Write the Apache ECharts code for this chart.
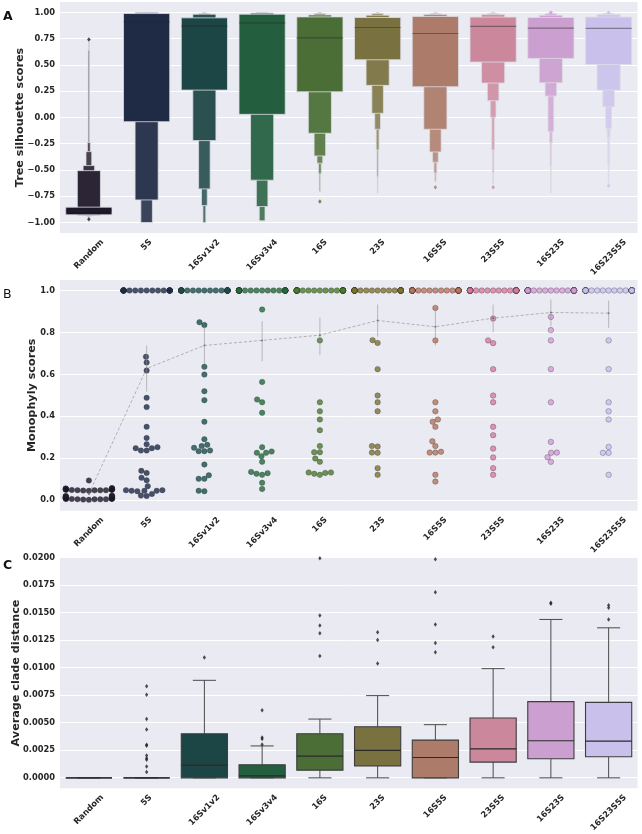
<!DOCTYPE html>
<html><head><meta charset="utf-8">
<script src="https://cdn.jsdelivr.net/npm/echarts@6/dist/echarts.min.js"></script>
<style>html,body{margin:0;padding:0;background:#fff}#chart{width:642px;height:834px}</style>
</head><body><div id="chart"></div>
<script>
// ---------------- DATA ----------------
const categories = ['Random','5S','16Sv1v2','16Sv3v4','16S','23S','16S5S','23S5S','16S23S','16S23S5S'];

// Panel A: letter values (index 0 = inner box / IQR, outward after)
const silLow = [
  [-0.927,-0.930,-0.934,-0.938,-0.942,-0.948,-0.955],
  [-0.040,-0.785,-1.000],
  [0.261,-0.220,-0.680,-0.838,-1.000],
  [0.030,-0.597,-0.848,-0.984],
  [0.245,-0.150,-0.366,-0.436,-0.537,-0.705],
  [0.550,0.306,0.040,-0.112,-0.309,-0.563,-0.720],
  [0.293,-0.112,-0.328,-0.426,-0.530,-0.610],
  [0.528,0.328,0.160,0.002,-0.309,-0.530,-0.630],
  [0.563,0.331,0.204,-0.135,-0.239,-0.461,-0.715],
  [0.505,0.261,0.103,-0.103,-0.188,-0.452,-0.625]
];
const silHigh = [
  [-0.854,-0.506,-0.458,-0.325,-0.239,0.640,0.720],
  [0.990,1.000,1.000],
  [0.949,0.984,0.990,0.995,1.000],
  [0.984,0.995,1.000,1.000],
  [0.958,0.977,0.990,0.995,0.998,1.000],
  [0.952,0.974,0.990,0.995,0.998,1.000,1.000],
  [0.962,0.980,0.990,0.995,0.998,1.000],
  [0.956,0.980,0.990,0.995,0.998,1.000,1.000],
  [0.952,0.974,0.990,0.995,0.998,1.000,1.000],
  [0.956,0.980,0.990,0.995,0.998,1.000,1.000]
];
const silMedian = [-0.886,0.914,0.870,0.902,0.759,0.857,0.800,0.867,0.851,0.848];
const silOutliers = [[0.743,-0.968],[],[],[],[-0.800],[],[-0.664],[-0.664],[1.000],[-0.651,1.000]];
const silTicks = [-1,-0.75,-0.5,-0.25,0,0.25,0.5,0.75,1];

// Panel B: monophyly scores per category
const monoRandom = [0.094,0.058,0.056,0.056,0.055,0.054,0.053,0.053,0.052,0.052,0.051,0.050,0.050,0.050,0.049,0.048,0.048,0.047,0.047,0.046,0.045,
  0.022,0.020,0.019,0.018,0.017,0.016,0.015,0.014,0.013,0.013,0.012,0.012,0.011,0.011,0.010,0.010,0.009,0.009,0.008,0.008,0.007,0.007,0.006,0.006,0.005,0.005,0.004,0.004,0.003,0.002];
const mono5S = [0.684,0.657,0.618,0.488,0.444,0.350,0.297,0.267,0.253,0.248,0.248,0.237,0.237,0.140,0.130,0.107,0.095,0.067,0.048,0.045,0.045,0.048,0.043,0.045,0.022,0.020,0.030,
  1,1,1,1,1,1,1,1,1,1,1,1,1,1,1,1,1,1,1,1,1,1,1,1];
const mono16Sv1v2 = [0.849,0.835,0.636,0.599,0.520,0.477,0.374,0.291,0.250,0.234,0.258,0.234,0.264,0.237,0.170,0.102,0.102,0.119,0.045,0.043,
  1,1,1,1,1,1,1,1,1,1,1,1,1,1,1,1,1,1,1,1,1,1,1,1,1,1,1,1,1,1,1];
const mono16Sv3v4 = [0.909,0.564,0.480,0.467,0.417,0.253,0.226,0.210,0.226,0.232,0.183,0.135,0.126,0.121,0.129,0.083,0.054,
  1,1,1,1,1,1,1,1,1,1,1,1,1,1,1,1,1,1,1,1,1,1,1,1,1,1,1,1,1,1,1,1,1,1];
const mono16S = [0.762,0.467,0.424,0.385,0.334,0.258,0.229,0.229,0.199,0.183,0.132,0.126,0.121,0.130,0.132,
  1,1,1,1,1,1,1,1,1,1,1,1,1,1,1,1,1,1,1,1,1,1,1,1,1,1,1,1,1,1,1,1,1,1,1,1];
const mono23S = [0.763,0.750,0.625,0.499,0.467,0.424,0.258,0.256,0.227,0.226,0.153,0.121,
  1,1,1,1,1,1,1,1,1,1,1,1,1,1,1,1,1,1,1,1,1,1,1,1,1,1,1,1,1,1,1,1,1,1,1,1,1,1,1];
const mono16S5S = [0.917,0.762,0.467,0.424,0.374,0.385,0.350,0.281,0.258,0.227,0.227,0.231,0.121,0.089,
  1,1,1,1,1,1,1,1,1,1,1,1,1,1,1,1,1,1,1,1,1,1,1,1,1,1,1,1,1,1,1,1,1,1,1,1,1];
const mono23S5S = [0.866,0.762,0.749,0.625,0.499,0.467,0.350,0.310,0.246,0.204,0.153,0.121,
  1,1,1,1,1,1,1,1,1,1,1,1,1,1,1,1,1,1,1,1,1,1,1,1,1,1,1,1,1,1,1,1,1,1,1,1,1,1,1];
const mono16S23S = [0.874,0.811,0.762,0.625,0.467,0.278,0.227,0.226,0.205,0.183,
  1,1,1,1,1,1,1,1,1,1,1,1,1,1,1,1,1,1,1,1,1,1,1,1,1,1,1,1,1,1,1,1,1,1,1,1,1,1,1,1,1];
const mono16S23S5S = [0.762,0.625,0.467,0.424,0.385,0.254,0.226,0.226,0.121,
  1,1,1,1,1,1,1,1,1,1,1,1,1,1,1,1,1,1,1,1,1,1,1,1,1,1,1,1,1,1,1,1,1,1,1,1,1,1,1,1,1,1];
const monoMean = [0.030,0.628,0.738,0.762,0.787,0.857,0.827,0.868,0.895,0.892];
const monoCiLow = [0.024,0.518,0.648,0.663,0.692,0.780,0.738,0.800,0.830,0.822];
const monoCiHigh = [0.037,0.738,0.827,0.854,0.870,0.933,0.915,0.933,0.957,0.952];
const monoTicks = [0,0.2,0.4,0.6,0.8,1.0];

// Panel C: box statistics [lower whisker, Q1, median, Q3, upper whisker]
const cladeBoxes = [
  [0,0,0,0,0],
  [0,0,0,0,0],
  [0,0,0.00115,0.00401,0.00886],
  [0,0,0.00018,0.00118,0.00290],
  [0,0.00070,0.00197,0.00401,0.00534],
  [0,0.00109,0.00249,0.00464,0.00747],
  [0,0,0.00185,0.00343,0.00483],
  [0,0.00143,0.00264,0.00543,0.00992],
  [0,0.00173,0.00337,0.00692,0.01439],
  [0,0.00191,0.00334,0.00686,0.01363]
];
const cladeOutliers = [
  [],
  [0.00832,0.00756,0.00534,0.00440,0.00300,0.00291,0.00203,0.00179,0.00164,0.00103,0.00052],
  [0.01093],
  [0.00613,0.00367,0.00352,0.00302],
  [0.01995,0.01475,0.01384,0.01314,0.01108],
  [0.01323,0.01253,0.01038],
  [0.01985,0.01687,0.01393,0.01226,0.01141],
  [0.01284,0.01187],
  [0.01590,0.01581],
  [0.01569,0.01545,0.01439]
];
const cladeTicks = [0,0.0025,0.005,0.0075,0.01,0.0125,0.015,0.0175,0.02];

// ---------------- STYLE ----------------
const boxColors = ['#1e1729','#1f2a44','#1c4545','#235f3f','#4a6e35','#7a7140','#ac7b69','#cb889d','#cb9fcf','#c9c1eb'];
const dotColors = ['#1b1529','#1c2a4a','#174f4c','#1f6b3a','#4b7a2b','#7d7330','#b8745c','#d77b9d','#d49bd8','#c6c0f2'];
const FONT = '"DejaVu Sans","Liberation Sans",sans-serif';
const TXT = '#262626';
const XFS = 8.3, YFS = 8.3, NFS = 11.2;
const K_LEVELS = 14;
const monoData = [monoRandom,mono5S,mono16Sv1v2,mono16Sv3v4,mono16S,mono23S,mono16S5S,mono23S5S,mono16S23S,mono16S23S5S];

function hexToRgb(h){h=h.replace('#','');return [0,2,4].map(i=>parseInt(h.substr(i,2),16));}
function mixWhite(h,f){return 'rgb('+hexToRgb(h).map(v=>Math.round(v+(255-v)*f)).join(',')+')';}

const chart = echarts.init(document.getElementById('chart'), null, {renderer:'canvas'});

const mctx = document.createElement('canvas').getContext('2d');
mctx.font = 'bold ' + XFS + 'px "DejaVu Sans"';
const xRich = {};
categories.forEach((c,i)=>{
  const w = mctx.measureText(c).width;
  const P = (w + 8) / 2;
  xRich['p'+i] = {fontSize:XFS, fontWeight:'bold', fontFamily:FONT, color:TXT, padding:[P,P,0,0]};
});

const gridsDef = [
  {left:60, top:2, width:577.5, height:231},
  {left:60, top:280, width:577.5, height:230.7},
  {left:60, top:557.7, width:577.5, height:230.6}
];

function catAxis(g){
  return {type:'category', gridIndex:g, data:categories, boundaryGap:true,
    axisLine:{show:false}, axisTick:{show:false}, splitLine:{show:false},
    axisLabel:{interval:0, rotate:45, align:'center', verticalAlign:'middle', margin:5,
      formatter:(v,i)=>'{p'+i+'|'+v+'}', rich:xRich}};
}
function valAxis(g){ return {type:'value', gridIndex:g, min:-0.5, max:9.5, show:false}; }
function yAxis(g,min,max,ticks,fmt,name,gap){
  return {type:'value', gridIndex:g, min:min, max:max,
    axisLine:{show:false}, axisTick:{show:false}, splitLine:{show:false},
    axisLabel:{customValues:ticks, formatter:fmt, fontSize:YFS, fontWeight:'bold', fontFamily:FONT, color:TXT, margin:5},
    name:name, nameLocation:'middle', nameGap:gap, nameMoveOverlap:false,
    nameTextStyle:{fontSize:NFS, fontWeight:'bold', fontFamily:FONT, color:TXT}};
}
function gridLineSeries(g, ticks){
  return {type:'custom', xAxisIndex:2*g+1, yAxisIndex:g, silent:true, z:0,
    data:ticks.map(t=>[0,t]), encode:{x:0,y:1},
    renderItem:(p,api)=>{
      const cs=p.coordSys; let y=api.coord([0,api.value(1)])[1]; y=Math.round(y-0.5)+0.5;
      return {type:'line', shape:{x1:cs.x,y1:y,x2:cs.x+cs.width,y2:y}, style:{stroke:'#ffffff',lineWidth:1}};
    }};
}

// Panel A data for boxes
const boxenData = [];
categories.forEach((c,i)=>{
  for (let k=silLow[i].length-1;k>=0;k--) boxenData.push([i, silLow[i][k], silHigh[i][k], k]);
});
const silOutData = [];
silOutliers.forEach((arr,i)=>arr.forEach(v=>silOutData.push({value:[i,v], itemStyle:{color:boxColors[i]}})));
const cladeOutData = [];
cladeOutliers.forEach((arr,i)=>arr.forEach(v=>cladeOutData.push([i,v])));

const option = {
  animation:false,
  backgroundColor:'#ffffff',
  grid: gridsDef.map(g=>Object.assign({show:true, backgroundColor:'#eaeaf2', borderWidth:0, containLabel:false, outerBoundsMode:'none'}, g)),
  xAxis:[catAxis(0),valAxis(0),catAxis(1),valAxis(1),catAxis(2),valAxis(2)],
  yAxis:[
    yAxis(0,-1.1,1.1,silTicks,v=>v.toFixed(2).replace('-','\u2212'),'Tree silhouette scores',34),
    yAxis(1,-0.05,1.05,monoTicks,v=>v.toFixed(1),'Monophyly scores',22),
    yAxis(2,-0.00095,0.02,cladeTicks,v=>v.toFixed(4),'Average clade distance',38)
  ],
  graphic:[
    {type:'text', left:3, top:10, style:{text:'A', fontSize:12.5, fontWeight:'bold', fontFamily:FONT, fill:'#111'}},
    {type:'text', left:3, top:288, style:{text:'B', fontSize:12.5, fontWeight:'normal', fontFamily:FONT, fill:'#111'}},
    {type:'text', left:3, top:559, style:{text:'C', fontSize:12.5, fontWeight:'bold', fontFamily:FONT, fill:'#111'}}
  ],
  series:[
    gridLineSeries(0,silTicks), gridLineSeries(1,monoTicks), gridLineSeries(2,cladeTicks),
    // Panel A boxen
    {type:'custom', xAxisIndex:1, yAxisIndex:0, z:2, data:boxenData, encode:{x:0,y:[1,2]},
      renderItem:(p,api)=>{
        const ci=api.value(0), lo=api.value(1), hi=api.value(2), k=api.value(3);
        const cw=api.size([1,0])[0]; const w=0.8*cw*Math.pow(2,-k);
        const a=api.coord([ci,hi]), b=api.coord([ci,lo]);
        return {type:'rect', shape:{x:a[0]-w/2, y:a[1], width:w, height:Math.max(b[1]-a[1],0)},
          style:{fill:mixWhite(boxColors[ci],0.85*k/K_LEVELS), stroke:'#dcdce4', lineWidth:0.8}};
      }},
    {type:'custom', xAxisIndex:1, yAxisIndex:0, z:3, data:silMedian.map((m,i)=>[i,m]), encode:{x:0,y:1},
      renderItem:(p,api)=>{
        const c=api.coord([api.value(0),api.value(1)]); const w=0.8*api.size([1,0])[0];
        return {type:'line', shape:{x1:c[0]-w/2,y1:c[1],x2:c[0]+w/2,y2:c[1]}, style:{stroke:'rgba(38,38,38,0.45)',lineWidth:1.2}};
      }},
    {type:'scatter', xAxisIndex:1, yAxisIndex:0, z:3, symbol:'diamond', symbolSize:[3.5,4.5], data:silOutData},
    // Panel B swarm (filled after layout)
    {id:'swarm', type:'scatter', xAxisIndex:3, yAxisIndex:1, z:2, data:[]},
    {type:'custom', xAxisIndex:3, yAxisIndex:1, z:4, data:monoCiLow.map((l,i)=>[i,l,monoCiHigh[i]]), encode:{x:0,y:[1,2]},
      renderItem:(p,api)=>{
        const a=api.coord([api.value(0),api.value(2)]), b=api.coord([api.value(0),api.value(1)]);
        return {type:'line', shape:{x1:a[0],y1:a[1],x2:b[0],y2:b[1]}, style:{stroke:'rgba(140,140,140,0.55)',lineWidth:1}};
      }},
    {type:'line', xAxisIndex:3, yAxisIndex:1, z:5, data:monoMean.map((m,i)=>[i,m]),
      symbol:'circle', symbolSize:2, itemStyle:{color:'rgba(100,100,100,0.7)'},
      lineStyle:{color:'rgba(110,110,110,0.6)', width:0.8, type:[3,2]}},
    // Panel C boxes
    {type:'custom', xAxisIndex:5, yAxisIndex:2, z:2, data:cladeBoxes.map((b,i)=>[i].concat(b)), encode:{x:0,y:[1,5]},
      renderItem:(p,api)=>{
        const ci=api.value(0);
        const cw=api.size([1,0])[0]; const bw=0.8*cw, cap=bw/2;
        const P=v=>api.coord([ci,v]);
        const wlo=P(api.value(1)), q1=P(api.value(2)), med=P(api.value(3)), q3=P(api.value(4)), whi=P(api.value(5));
        const x=wlo[0]; const edge='#3d3d3d';
        return {type:'group', children:[
          {type:'line', shape:{x1:x,y1:whi[1],x2:x,y2:q3[1]}, style:{stroke:'#4a4a4a',lineWidth:1}},
          {type:'line', shape:{x1:x,y1:q1[1],x2:x,y2:wlo[1]}, style:{stroke:'#4a4a4a',lineWidth:1}},
          {type:'line', shape:{x1:x-cap/2,y1:whi[1],x2:x+cap/2,y2:whi[1]}, style:{stroke:'#4a4a4a',lineWidth:1}},
          {type:'line', shape:{x1:x-cap/2,y1:wlo[1],x2:x+cap/2,y2:wlo[1]}, style:{stroke:'#4a4a4a',lineWidth:1}},
          {type:'rect', shape:{x:x-bw/2,y:q3[1],width:bw,height:q1[1]-q3[1]}, style:{fill:boxColors[ci],stroke:edge,lineWidth:1.1}},
          {type:'line', shape:{x1:x-bw/2,y1:med[1],x2:x+bw/2,y2:med[1]}, style:{stroke:'#2a2a2a',lineWidth:1.2}}
        ]};
      }},
    {type:'scatter', xAxisIndex:5, yAxisIndex:2, z:3, symbol:'diamond', symbolSize:[3.2,4.5], itemStyle:{color:'#222'}, data:cladeOutData}
  ]
};
chart.setOption(option);

// ---------------- swarm layout ----------------
function beeswarm(ys, d, half){
  const order = ys.map((y,i)=>i).sort((a,b)=>ys[b]-ys[a]);
  const placed=[]; const xs=new Array(ys.length);
  for (const i of order){
    const y=ys[i];
    const neigh=placed.filter(q=>Math.abs(q.y-y)<d);
    const cands=[0];
    neigh.forEach(q=>{const dx=Math.sqrt(d*d-(q.y-y)*(q.y-y)); cands.push(q.x-dx, q.x+dx);});
    cands.sort((a,b)=>Math.abs(a)-Math.abs(b));
    const c=cands.find(c=>neigh.every(q=>(q.x-c)*(q.x-c)+(q.y-y)*(q.y-y)>=d*d-1e-6));
    placed.push({x:c,y:y}); xs[i]=c;
  }
  return xs.map(x=>Math.max(-half,Math.min(half,x)));
}
const x0=chart.convertToPixel({xAxisIndex:3},0), x1=chart.convertToPixel({xAxisIndex:3},1);
const catW=x1-x0; const D=5.7;
const swarmData=[];
monoData.forEach((vals,ci)=>{
  const ys=vals.map(v=>chart.convertToPixel({yAxisIndex:1},v));
  const offs=beeswarm(ys,D,0.4*catW);
  vals.forEach((v,j)=>swarmData.push({value:[ci+offs[j]/catW, v], itemStyle:{color:dotColors[ci]}}));
});
chart.setOption({series:[{id:'swarm', symbol:'circle', symbolSize:5.5,
  itemStyle:{borderColor:'rgba(45,45,45,0.75)', borderWidth:0.5}, data:swarmData}]});
</script></body></html>
